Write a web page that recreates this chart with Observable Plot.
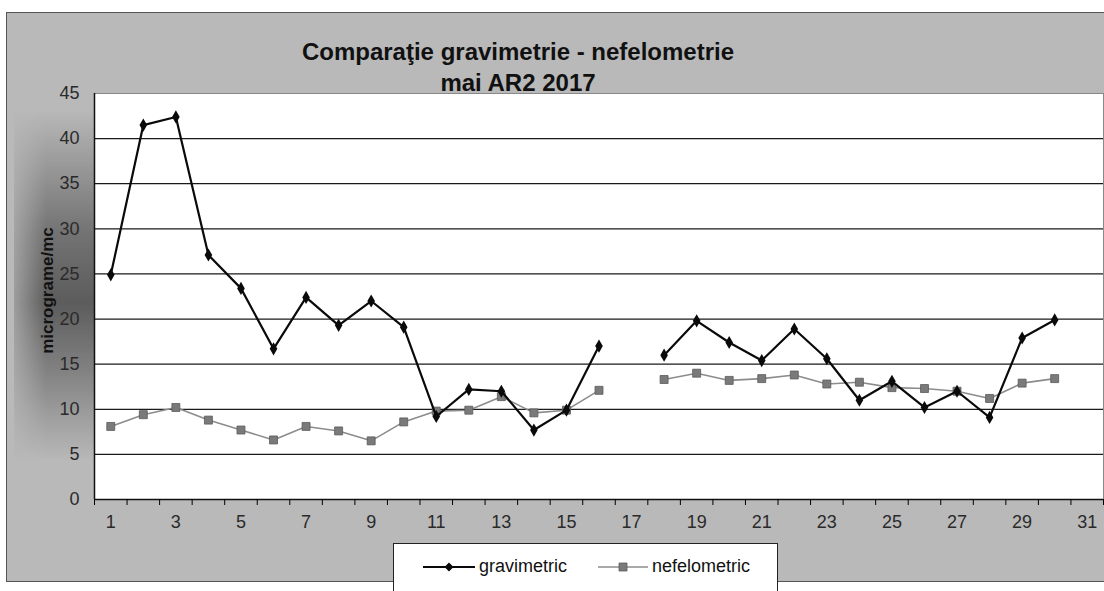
<!DOCTYPE html>
<html>
<head>
<meta charset="utf-8">
<script src="https://cdn.jsdelivr.net/npm/d3@7"></script>
<script src="https://cdn.jsdelivr.net/npm/@observablehq/plot@0.6"></script>
<style>
  body { margin: 0; background: #fff; font-family: "Liberation Sans", Arial, sans-serif; }
  #wrap { position: relative; width: 1104px; height: 591px; overflow: hidden; background: #fff; }
  #bg { position: absolute; left: 6px; top: 12px; width: 1110px; height: 570px; background: #b9b9b9; border: 1px solid #555; box-sizing: border-box; }
  #shade { position: absolute; left: 14px; top: 110px; width: 81px; height: 350px;
    background: linear-gradient(to bottom, rgba(0,0,0,0) 0%, rgba(30,30,30,0.45) 35%, rgba(30,30,30,0.6) 55%, rgba(30,30,30,0.35) 75%, rgba(0,0,0,0) 100%);
    -webkit-mask-image: linear-gradient(to right, rgba(0,0,0,0.3), rgba(0,0,0,1) 40%);
    mask-image: linear-gradient(to right, rgba(0,0,0,0.3), rgba(0,0,0,1) 40%); }
  #chart { position: absolute; left: 0; top: 0; }
  #title { position: absolute; left: 0; width: 1036px; top: 36px; text-align: center; font-weight: bold;
    font-size: 24px; line-height: 31px; color: #111; }
  #legend { position: absolute; left: 393px; top: 543px; width: 385px; height: 70px; background: #fff;
    border: 1px solid #222; box-sizing: border-box; }
  .item { position: absolute; top: 12px; display: flex; align-items: center; font-size: 18px; color: #111; }
  .item svg { margin-right: 4px; }
</style>
</head>
<body>
<div id="wrap">
  <div id="bg"></div>
  <div id="shade"></div>
  <div id="chart"></div>
  <div id="title">Comparaţie gravimetrie - nefelometrie<br>mai AR2 2017</div>
  <div id="legend"></div>
</div>
<script>
const days = d3.range(1, 32);
const gravimetric = [24.9, 41.5, 42.4, 27.1, 23.4, 16.7, 22.4, 19.3, 22.0, 19.1,
                     9.2, 12.2, 12.0, 7.7, 9.9, 17.0, null, 16.0, 19.8, 17.4,
                     15.4, 18.9, 15.6, 11.0, 13.1, 10.2, 12.0, 9.1, 17.9, 19.9, null];
const nefelometric = [8.1, 9.4, 10.2, 8.8, 7.7, 6.6, 8.1, 7.6, 6.5, 8.6,
                      9.8, 9.9, 11.4, 9.6, 9.9, 12.1, null, 13.3, 14.0, 13.2,
                      13.4, 13.8, 12.8, 13.0, 12.4, 12.3, 12.0, 11.2, 12.9, 13.4, null];
const yTicks = [0, 5, 10, 15, 20, 25, 30, 35, 40, 45];
const gridTicks = [5, 10, 15, 20, 25, 30, 35, 40];
const xLabelDays = days.filter(d => d % 2 === 1);
const seriesNames = ["gravimetric", "nefelometric"];
const yTitle = "micrograme/mc";

const rows = days.map((d, i) => ({day: d, grav: gravimetric[i], nef: nefelometric[i]}));
const boundaries = [0, ...days].map(d => d + 0.5);

const chart = Plot.plot({
  width: 1104,
  height: 591,
  marginLeft: 94,
  marginRight: 1,
  marginTop: 93,
  marginBottom: 92,
  style: {background: "transparent", fontFamily: "Liberation Sans, Arial, sans-serif"},
  x: {type: "linear", domain: [0.5, 31.5]},
  y: {domain: [0, 45]},
  marks: [
    Plot.frame({fill: "white", stroke: "#888", strokeWidth: 1}),
    Plot.gridY(gridTicks, {stroke: "#1a1a1a", strokeOpacity: 1, strokeWidth: 1.2}),
    Plot.ruleX([0.5], {stroke: "#111", strokeWidth: 1.5}),
    Plot.ruleY([0], {stroke: "#111", strokeWidth: 1.5}),
    Plot.axisY(yTicks, {tickSize: 6, tickPadding: 9, fontSize: 18, fill: "#2a2a2a", stroke: null, label: null}),
    Plot.axisX(boundaries, {tickSize: 6, tickFormat: () => "", label: null}),
    Plot.axisX(xLabelDays, {tickSize: 0, tickPadding: 16, fontSize: 18, fill: "#2a2a2a", label: null}),
    Plot.text([yTitle], {frameAnchor: "left", textAnchor: "middle", dx: -47, dy: -6, rotate: -90, fontSize: 17, fontWeight: "bold", fill: "#111", text: d => d}),
    Plot.line(rows, {x: "day", y: "nef", stroke: "#8c8c8c", strokeWidth: 1.6}),
    Plot.dot(rows, {x: "day", y: "nef", symbol: "square", r: 4.5, fill: "#7a7a7a", stroke: "#5a5a5a", strokeWidth: 0.8}),
    Plot.line(rows, {x: "day", y: "grav", stroke: "#0a0a0a", strokeWidth: 2.2}),
    Plot.dot(rows, {x: "day", y: "grav", symbol: "diamond", r: 4, fill: "#0a0a0a"})
  ]
});
document.getElementById("chart").append(chart);

// Legend
const legend = document.getElementById("legend");
function swatch(kind) {
  const ns = "http://www.w3.org/2000/svg";
  const svg = document.createElementNS(ns, "svg");
  const w = kind === 0 ? 52 : 50;
  svg.setAttribute("width", w);
  svg.setAttribute("height", 12);
  const line = document.createElementNS(ns, "line");
  line.setAttribute("x1", 0); line.setAttribute("x2", w);
  line.setAttribute("y1", 6); line.setAttribute("y2", 6);
  line.setAttribute("stroke", kind === 0 ? "#0a0a0a" : "#8c8c8c");
  line.setAttribute("stroke-width", kind === 0 ? 2 : 1.6);
  svg.append(line);
  const m = document.createElementNS(ns, "path");
  if (kind === 0) {
    m.setAttribute("d", `M${w/2},1.5L${w/2+4.5},6L${w/2},10.5L${w/2-4.5},6Z`);
    m.setAttribute("fill", "#0a0a0a");
  } else {
    m.setAttribute("d", `M${w/2-4},2h8v8h-8Z`);
    m.setAttribute("fill", "#7a7a7a");
    m.setAttribute("stroke", "#5a5a5a");
    m.setAttribute("stroke-width", 0.8);
  }
  svg.append(m);
  return svg;
}
const lefts = [29, 204];
seriesNames.forEach((name, i) => {
  const div = document.createElement("div");
  div.className = "item";
  div.style.left = lefts[i] + "px";
  div.append(swatch(i));
  const span = document.createElement("span");
  span.textContent = name;
  div.append(span);
  legend.append(div);
});
</script>
</body>
</html>
